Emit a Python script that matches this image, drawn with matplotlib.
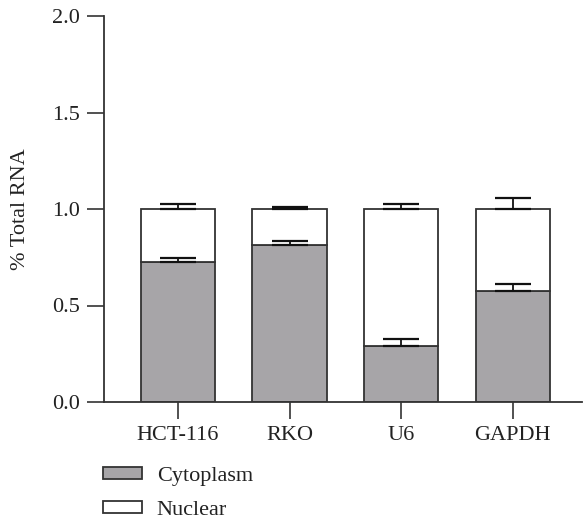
import numpy as np
import matplotlib.pyplot as plt

plt.rcParams['font.family'] = ['Liberation Serif', 'DejaVu Serif']

cats = ['HCT-116', 'RKO', 'U6', 'GAPDH']
cyto = [0.727, 0.815, 0.289, 0.577]
cyto_err = [0.019, 0.019, 0.037, 0.034]
nuc_err = [0.027, 0.012, 0.026, 0.059]
total = [1.0, 1.0, 1.0, 1.0]

edge = '#333333'
grey = '#a7a5a8'

fig = plt.figure(figsize=(5.83, 5.2), dpi=100)
ax = fig.add_axes([0.178, 0.227, 0.82, 0.742])

x = np.arange(len(cats))
nuc = np.array(total) - np.array(cyto)
w = 0.665
ax.bar(x, cyto, w, color=grey, edgecolor=edge, linewidth=1.3, label='Cytoplasm', zorder=2)
ax.bar(x, nuc, w, bottom=cyto, color='white', edgecolor=edge, linewidth=1.3, label='Nuclear', zorder=2)

ax.errorbar(x, cyto, yerr=[np.zeros(4), cyto_err], fmt='none', ecolor='#111111',
            elinewidth=1.3, capsize=13, capthick=1.6, zorder=3)
ax.errorbar(x, total, yerr=[np.zeros(4), nuc_err], fmt='none', ecolor='#111111',
            elinewidth=1.3, capsize=13, capthick=1.6, zorder=3)

ax.set_xlim(-0.665, 3.62)
ax.set_ylim(0, 2.0)
ax.set_yticks([0, 0.5, 1.0, 1.5, 2.0])
ax.set_yticklabels(['0.0', '0.5', '1.0', '1.5', '2.0'])
ax.set_xticks(x)
ax.set_xticklabels(cats)
ax.tick_params(axis='both', length=12, width=1.2, color=edge, labelsize=16, labelcolor='#222222', pad=5)
ax.set_ylabel('% Total RNA', fontsize=16, color='#222222', labelpad=16)

for s in ['top', 'right']:
    ax.spines[s].set_visible(False)
for s in ['left', 'bottom']:
    ax.spines[s].set_color(edge)
    ax.spines[s].set_linewidth(1.3)

fig.legend(loc='upper left', bbox_to_anchor=(0.143, 0.14), frameon=False, fontsize=16,
           handlelength=1.75, handleheight=0.45, labelspacing=0.65, handletextpad=0.65,
           labelcolor='#222222')

fig.savefig('out.png', dpi=100)
